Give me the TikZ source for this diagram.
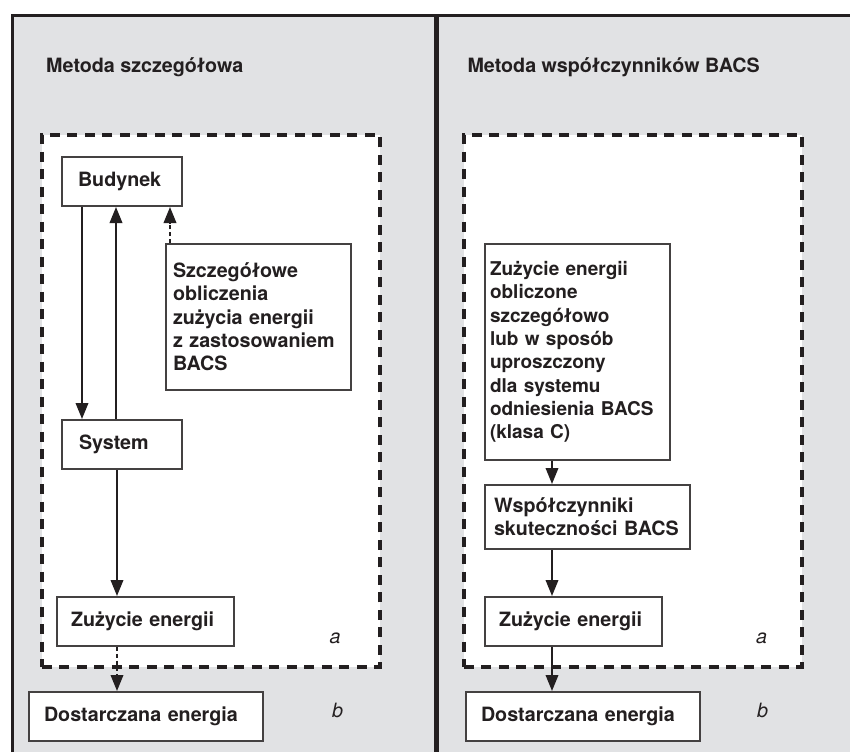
\documentclass[tikz,border=0pt]{standalone}
\usepackage{fontspec}
\setmainfont{TeX Gyre Heros}
\usetikzlibrary{positioning,arrows.meta,calc}
\definecolor{panelgray}{HTML}{E1E2E4}
\definecolor{ink}{HTML}{231F20}

\begin{document}
\begin{tikzpicture}[
  x=1pt, y=-1pt,
  font=\fontsize{19.7}{23.3}\selectfont\bfseries,
  >={Triangle[length=16pt,width=12.5pt]},
  box/.style n args={2}{draw=ink!85, fill=white, line width=2pt, anchor=north west,
      align=left, inner xsep=#1, inner ysep=0pt, text width=#2, text=ink},
  region/.style={draw=ink, fill=white, line width=3.5pt, dash pattern=on 10pt off 7.5pt,
      anchor=north west, inner sep=0pt, minimum width=338pt, minimum height=532pt},
  title/.style={anchor=base west, text=ink},
  tag/.style={font=\fontsize{19.7}{23.3}\selectfont\itshape, anchor=base, text=ink},
  link/.style={->, line width=2pt, draw=ink},
  dlink/.style={link, dash pattern=on 4pt off 2.8pt},
]
\useasboundingbox (0,0) rectangle (850,752);
\fill[white] (0,0) rectangle (850,752);

% Panels and frame
\fill[panelgray] (12,15) rectangle (850,752);
\draw[ink, line width=3.5pt] (12.3,752) -- (12.3,15.3) -- (850,15.3);
\draw[ink, line width=5pt] (436.3,15) -- (436.3,752);

\node[title] (titleA) at (42.7,72.7) {Metoda szczegółowa};
\node[title] (titleB) at (464,72.7) {Metoda współczynników BACS};

% Dashed regions
\node[region] (regA) at (40,133) {};
\node[region] (regB) at (462,133) {};

% Detailed method
\node[box={16pt}{88pt}, minimum height=49pt] (bud) at (61,156) {Budynek};
\node[box={17pt}{86pt}, minimum height=49pt] (sys) at (61,419) {System};
\node[box={7pt}{171pt}, minimum height=146pt] (szcz) at (165,243)
  {Szczegółowe\\obliczenia\\zużycia energii\\z~zastosowaniem\\BACS};
\node[box={14pt}{149pt}, minimum height=49pt] (zuzA) at (56,596) {Zużycie energii};
\node[box={15pt}{204pt}, minimum height=49pt] (dostA) at (28,691) {Dostarczana energia};

\draw[link] ([xshift=21pt]bud.south west) -- ([xshift=21pt]sys.north west);
\draw[link] ([xshift=55pt]sys.north west) -- ([xshift=55pt]bud.south west);
\draw[dlink] ([xshift=5pt]szcz.north west) -- ([xshift=5pt]szcz.north west |- bud.south);
\draw[link] ([xshift=56pt]sys.south west) -- ([xshift=56pt]sys.south west |- zuzA.north);
\draw[dlink] ([xshift=61pt]zuzA.south west) -- ([xshift=61pt]zuzA.south west |- dostA.north);

\node[tag] (tagA1) at (335,643) {a};
\node[tag] (tagA2) at (337.5,717) {b};

% BACS factor method
\node[box={5pt}{175pt}, minimum height=216pt, font=\fontsize{19}{23.3}\selectfont\bfseries] (obl) at (484,243)
  {Zużycie energii\\obliczone\\szczegółowo\\lub w sposób\\uproszczony\\dla systemu\\odniesienia~BACS\\(klasa~C)};
\node[box={9pt}{187pt}, minimum height=64pt] (wsp) at (484,484)
  {Współczynniki\\skuteczności~BACS};
\node[box={14pt}{149pt}, minimum height=49pt] (zuzB) at (484,596) {Zużycie energii};
\node[box={15pt}{204pt}, minimum height=49pt] (dostB) at (465,691) {Dostarczana energia};

\draw[link] ([xshift=68pt]obl.south west) -- ([xshift=68pt]obl.south west |- wsp.north);
\draw[link] ([xshift=68pt]wsp.south west) -- ([xshift=68pt]wsp.south west |- zuzB.north);
\draw[link] ([xshift=68pt]zuzB.south west) -- ([xshift=68pt]zuzB.south west |- dostB.north);

\node[tag] (tagB1) at (761.5,643) {a};
\node[tag] (tagB2) at (762.5,717) {b};

\end{tikzpicture}
\end{document}
